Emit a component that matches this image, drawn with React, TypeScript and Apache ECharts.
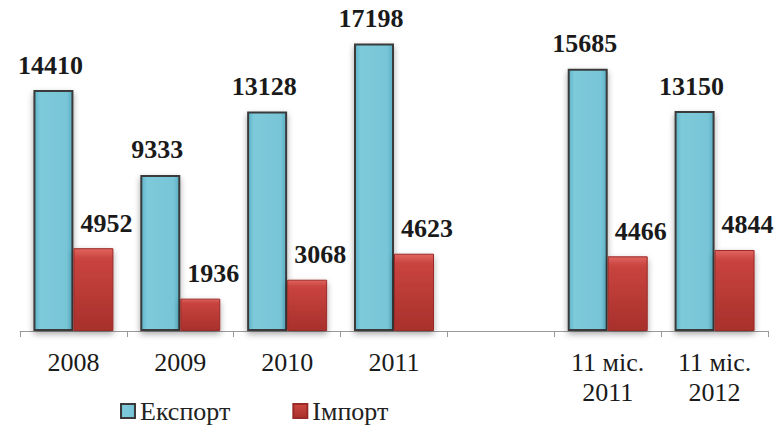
import React, { useEffect, useRef } from "react";
import * as echarts from "echarts";

const categories = ["2008", "2009", "2010", "2011", "", "11 міс.\n2011", "11 міс.\n2012"];
const exportValues = [14410, 9333, 13128, 17198, null, 15685, 13150];
const importValues = [4952, 1936, 3068, 4623, null, 4466, 4844];
const seriesNames = ["Експорт", "Імпорт"];

const FONT = "'Times New Roman', 'Liberation Serif', serif";

export default function App() {
  const ref = useRef<HTMLDivElement>(null);
  useEffect(() => {
    if (!ref.current) return;
    const chart = echarts.init(ref.current, null, { renderer: "svg" });
    const exportFill = new echarts.graphic.LinearGradient(0, 0, 1, 0, [
      { offset: 0, color: "#5eb3c8" },
      { offset: 0.15, color: "#7dcadb" },
      { offset: 0.85, color: "#78c5d7" },
      { offset: 1, color: "#5aaec3" },
    ]);
    const importFill = new echarts.graphic.LinearGradient(0, 0, 0, 1, [
      { offset: 0, color: "#e06560" },
      { offset: 0.12, color: "#c9443f" },
      { offset: 1, color: "#a8302c" },
    ]);
    chart.setOption({
      animation: false,
      backgroundColor: "#ffffff",
      textStyle: { fontFamily: FONT },
      grid: { left: 20, right: 14, top: 30, bottom: 94 },
      legend: {
        left: 120,
        top: 398,
        padding: 0,
        itemWidth: 14,
        itemHeight: 14,
        itemGap: 62,
        icon: "rect",
        textStyle: { fontFamily: FONT, fontSize: 26, lineHeight: 26, color: "#222" },
        data: seriesNames,
      },
      xAxis: {
        type: "category",
        data: categories,
        axisLine: { lineStyle: { color: "#9a9a9a", width: 1 } },
        axisTick: { show: true, length: 6, lineStyle: { color: "#9a9a9a" } },
        axisLabel: {
          fontFamily: FONT,
          fontSize: 26,
          color: "#1a1a1a",
          margin: 16,
          lineHeight: 30,
          interval: 0,
        },
      },
      yAxis: {
        type: "value",
        min: 0,
        max: 18000,
        show: false,
        splitLine: { show: false },
      },
      series: [
        {
          name: seriesNames[0],
          type: "bar",
          data: exportValues,
          barWidth: 40,
          barGap: "0%",
          itemStyle: {
            color: exportFill,
            borderColor: "#3a3a3a",
            borderWidth: 2,
            shadowColor: "rgba(0,0,0,0.35)",
            shadowBlur: 6,
            shadowOffsetY: 3,
          },
          label: {
            show: true,
            position: "top",
            distance: 12,
            offset: [-3, 0],
            fontFamily: FONT,
            fontSize: 26,
            fontWeight: "bold",
            color: "#1a1a1a",
          },
        },
        {
          name: seriesNames[1],
          type: "bar",
          data: importValues,
          barWidth: 40,
          barGap: "0%",
          itemStyle: {
            color: importFill,
            borderColor: "#9a2a26",
            borderWidth: 1,
            shadowColor: "rgba(0,0,0,0.35)",
            shadowBlur: 6,
            shadowOffsetY: 3,
          },
          label: {
            show: true,
            position: "top",
            distance: 12,
            offset: [13, 0],
            fontFamily: FONT,
            fontSize: 26,
            fontWeight: "bold",
            color: "#1a1a1a",
          },
        },
      ],
    });
    return () => chart.dispose();
  }, []);
  return (
    <div
      ref={ref}
      style={{ position: "absolute", left: 0, top: 0, width: 782, height: 425 }}
    />
  );
}
